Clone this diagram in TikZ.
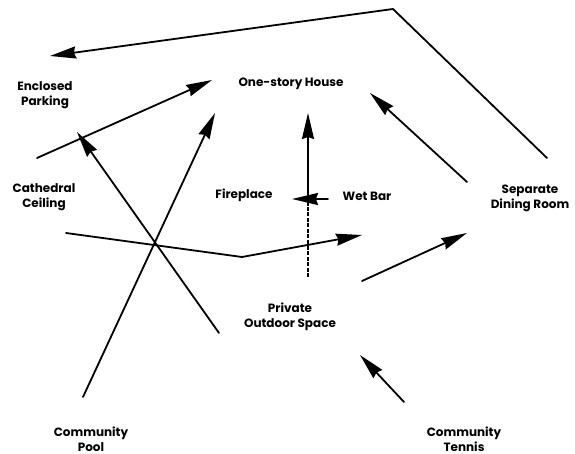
\documentclass[tikz,border=0pt]{standalone}
\usepackage{fontspec}
\setmainfont{Poppins}
\usetikzlibrary{arrows.meta}
\begin{document}
\begin{tikzpicture}[x=1pt,y=-1pt,
  label/.style={align=center,inner sep=0pt,font=\fontsize{12}{15}\selectfont\bfseries},
  link/.style={line width=1.8pt,line cap=round,line join=round},
  arrowlink/.style={link,-{Stealth[length=26pt,width=12pt,inset=2pt]}}]
\useasboundingbox (0,0) rectangle (575,454);

% topics
\node[label] (park)   at (45,95)   {Enclosed\\Parking};
\node[label] (house)  at (291,84)  {One-story House};
\node[label] (ceil)   at (44,197)  {Cathedral\\Ceiling};
\node[label] (fire)   at (244,195) {Fireplace};
\node[label] (wet)    at (367,196) {Wet Bar};
\node[label] (dining) at (530,198) {Separate\\Dining Room};
\node[label] (pos)    at (290,317) {Private\\Outdoor Space};
\node[label] (pool)   at (91,439)  {Community\\Pool};
\node[label] (tennis) at (464,439) {Community\\Tennis};

% connector ends
\coordinate (dinTop)   at (547,158);
\coordinate (peak)     at (393,9);
\coordinate (parkIn)   at (50,56);
\coordinate (parkOut)  at (37,158);
\coordinate (houseInA) at (212,80);
\coordinate (poolOut)  at (83,397);
\coordinate (houseInB) at (215,113);
\coordinate (posOutA)  at (219,333);
\coordinate (parkArr)  at (77,132);
\coordinate (ceilOut)  at (66,233);
\coordinate (bend)     at (242,257);
\coordinate (ceilTip)  at (362,235);
\coordinate (posOutB)  at (308,277);
\coordinate (barJoin)  at (308,205);
\coordinate (houseInC) at (308,113);
\coordinate (wetOut)   at (328,199);
\coordinate (wetTip)   at (292,199);
\coordinate (dinOut)   at (467,182);
\coordinate (houseInD) at (370,93);
\coordinate (posOutC)  at (362,281);
\coordinate (dinIn)    at (467,233);
\coordinate (tenOut)   at (404,402);
\coordinate (posIn)    at (360,355);

% connectors
\draw[arrowlink] (dinTop) -- (peak) -- (parkIn);
\draw[arrowlink] (parkOut) -- (houseInA);
\draw[arrowlink] (poolOut) -- (houseInB);
\draw[arrowlink] (posOutA) -- (parkArr);
\draw[arrowlink] (ceilOut) -- (bend) -- (ceilTip);
\draw[link,line cap=butt,dash pattern=on 4pt off 1.5pt] (posOutB) -- (barJoin);
\draw[arrowlink] (barJoin) -- (houseInC);
\draw[arrowlink] (wetOut) -- (wetTip);
\draw[arrowlink] (dinOut) -- (houseInD);
\draw[arrowlink] (posOutC) -- (dinIn);
\draw[arrowlink] (tenOut) -- (posIn);
\end{tikzpicture}
\end{document}
